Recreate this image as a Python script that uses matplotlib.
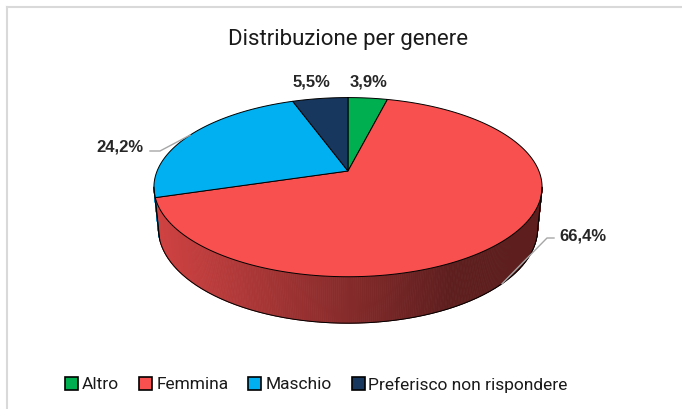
import numpy as np
import matplotlib
matplotlib.use("Agg")
import matplotlib.pyplot as plt
from matplotlib.patches import Polygon, Rectangle
from matplotlib import colors as mcolors

# Distribuzione per genere (percentuali)
categories = ["Altro", "Femmina", "Maschio", "Preferisco non rispondere"]
values = [3.9, 66.4, 24.2, 5.5]
colors = ["#00B050", "#F84F4F", "#00B0F0", "#17375E"]

# 3d pie projection (pixel coordinates)
CX, CY = 348, 172
F = 943
D = 4.94
ALPHA = np.radians(27)
H = 0.244


def project(theta_deg, z=0.0):
    t = np.radians(theta_deg)
    X, Y = np.sin(t), np.cos(t)
    s, c = np.sin(ALPHA), np.cos(ALPHA)
    d = D + Y * c - z * s
    yv = Y * s + z * c
    return CX + F * X / d, CY - F * yv / d


fig = plt.figure(figsize=(6.82, 4.10), dpi=100)
ax = fig.add_axes([0, 0, 1, 1])
ax.set_xlim(0, 682)
ax.set_ylim(410, 0)
ax.axis("off")

# chart area border
ax.plot([7, 682], [8, 8], color="#D9D9D9", lw=1.5)
ax.plot([7, 7], [8, 410], color="#D9D9D9", lw=1.5)

ax.text(348, 40, "Distribuzione per genere", ha="center", va="center",
        fontsize=16, family="Roboto", color="#1a1a1a")

bounds = np.concatenate([[0], np.cumsum(values)]) / np.sum(values) * 360

# silhouette angles
th = np.linspace(0, 360, 3601)
xs = project(th)[0]
left, right = th[np.argmin(xs)], th[np.argmax(xs)]
xmin, xmax = xs.min(), xs.max()

# side band
for i in range(len(values)):
    a0, a1 = max(bounds[i], right), min(bounds[i + 1], left)
    if a1 <= a0:
        continue
    steps = np.linspace(a0, a1, max(int((a1 - a0) * 2), 2))
    base = np.array(mcolors.to_rgb(colors[i]))
    for a, b in zip(steps[:-1], steps[1:]):
        tx, ty = project(np.array([a, b]))
        bx, by = project(np.array([b, a]), -H)
        xm = (tx.mean() - xmin) / (xmax - xmin)
        f = np.clip(0.84 - 0.6 * xm, 0.38, 1)
        col = base * f
        ax.add_patch(Polygon(np.column_stack([np.r_[tx, bx], np.r_[ty, by]]),
                             closed=True, facecolor=col, edgecolor=col, lw=0.6))

# side outlines
arc = np.linspace(right, left, 200)
bx, by = project(arc, -H)
ax.plot(bx, by, color="black", lw=0.7)
for a in [left, right] + [b for b in bounds[1:-1] if right < b < left]:
    p0, p1 = project(a), project(a, -H)
    ax.plot([p0[0], p1[0]], [p0[1], p1[1]], color="black", lw=0.7)

# top faces
for i in range(len(values)):
    arc = np.linspace(bounds[i], bounds[i + 1], 200)
    px, py = project(arc)
    ax.add_patch(Polygon(np.column_stack([np.r_[CX, px], np.r_[CY, py]]),
                         closed=True, facecolor=colors[i], edgecolor="black", lw=0.7))

# data labels
labels = [f"{v:.1f}%".replace(".", ",") for v in values]
label_pos = [(369, 82), (583, 236), (120, 147), (311, 82)]
mids = (bounds[:-1] + bounds[1:]) / 2
for i, (lx, ly) in enumerate(label_pos):
    ax.text(lx, ly, labels[i], ha="center", va="center", fontsize=12,
            fontweight="bold", family="Liberation Sans", color="#262626")

# leader lines
px, py = project(mids[1], -H)
ax.plot([554, 547, px], [239, 239, py], color="#A6A6A6", lw=1)
px, py = project(mids[2])
ax.plot([150, 160, px], [152, 152, py], color="#A6A6A6", lw=1)

# legend
renderer = fig.canvas.get_renderer()
x = 65
for cat, col in zip(categories, colors):
    ax.add_patch(Rectangle((x, 378), 13, 13, facecolor=col, edgecolor="black", lw=1.2))
    t = ax.text(x + 17, 385, cat, ha="left", va="center", fontsize=12.5,
                family="Roboto", color="#1a1a1a")
    bb = t.get_window_extent(renderer)
    x = x + 17 + bb.width + 20

fig.savefig("out.png", dpi=100)
